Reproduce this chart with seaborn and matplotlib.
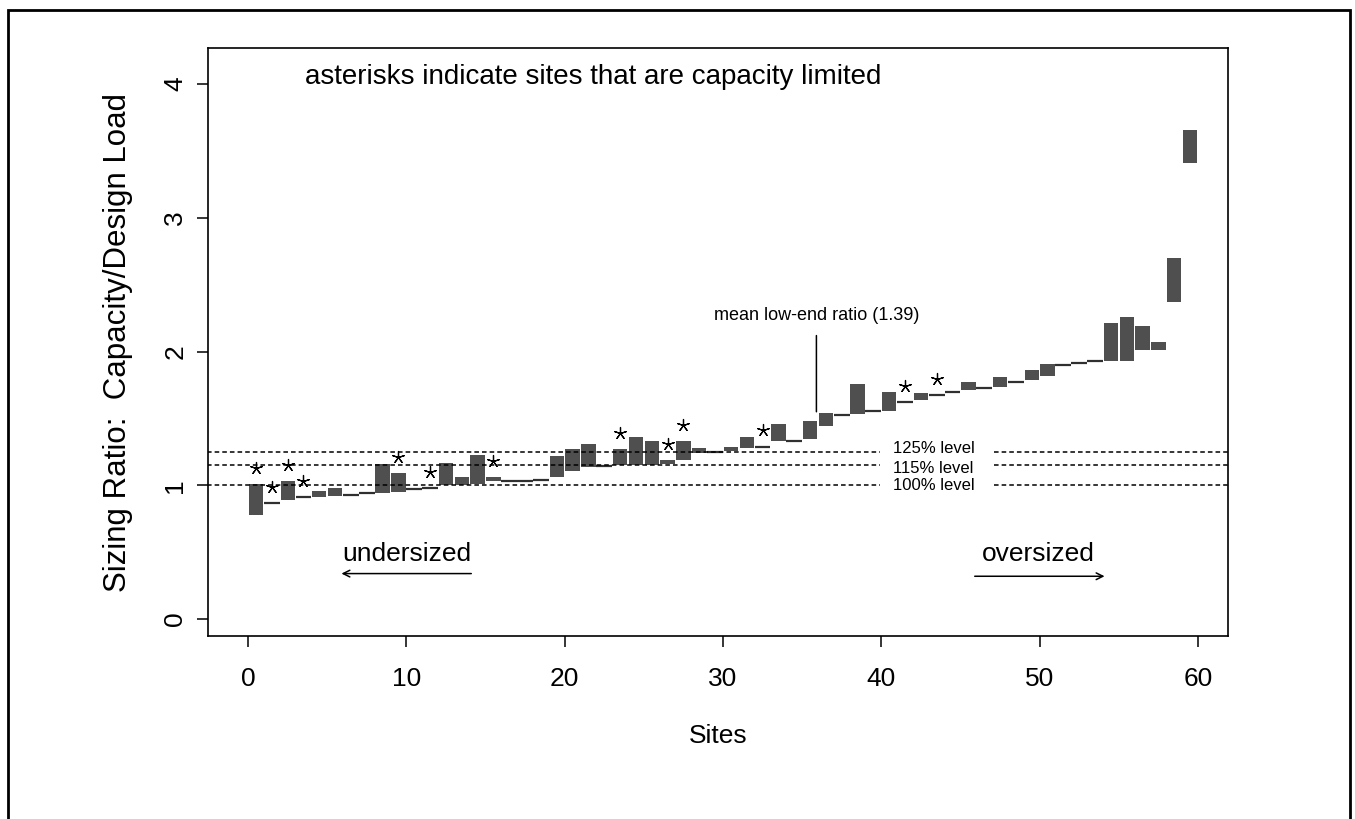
import numpy as np
import pandas as pd
import seaborn as sns
import matplotlib.pyplot as plt
from matplotlib.patches import Rectangle

# Dados: faixa de razão (capacidade / carga de projeto) por local, ordenada pelo limite inferior
low = [0.78, 0.87, 0.89, 0.91, 0.91, 0.92, 0.93, 0.945, 0.945, 0.95,
       0.97, 0.98, 1.00, 1.00, 1.01, 1.03, 1.03, 1.035, 1.04, 1.06,
       1.11, 1.14, 1.145, 1.15, 1.15, 1.15, 1.16, 1.19, 1.245, 1.25,
       1.255, 1.28, 1.29, 1.33, 1.335, 1.35, 1.44, 1.525, 1.535, 1.555,
       1.555, 1.62, 1.64, 1.675, 1.70, 1.71, 1.73, 1.735, 1.775, 1.79,
       1.82, 1.90, 1.915, 1.93, 1.93, 1.93, 2.01, 2.01, 2.37, 3.41]
high = [1.01, 0.87, 1.03, 0.91, 0.96, 0.98, 0.93, 0.945, 1.16, 1.09,
        0.97, 0.98, 1.17, 1.06, 1.23, 1.06, 1.03, 1.035, 1.04, 1.22,
        1.27, 1.31, 1.145, 1.27, 1.36, 1.33, 1.19, 1.33, 1.28, 1.25,
        1.29, 1.36, 1.29, 1.46, 1.335, 1.48, 1.54, 1.525, 1.76, 1.555,
        1.70, 1.62, 1.69, 1.675, 1.70, 1.77, 1.73, 1.81, 1.775, 1.86,
        1.91, 1.90, 1.915, 1.93, 2.21, 2.26, 2.19, 2.07, 2.70, 3.66]
limited = [0, 1, 2, 3, 9, 11, 15, 23, 26, 27, 32, 41, 43]  # locais limitados pela capacidade
levels = [1.00, 1.15, 1.25]
level_labels = ['100% level', '115% level', '125% level']
label_nudge = [0.0, -0.022, 0.025]  # afasta um pouco os rótulos que ficam muito juntos
mean_low_label = 'mean low-end ratio (1.39)'

df = pd.DataFrame({'low': low, 'high': high})
df['pos'] = np.arange(len(df)) + 0.5
df['span'] = df['high'] - df['low']
df['limited'] = df.index.isin(limited)

sns.set_theme(style='ticks', rc={'text.color': 'black', 'axes.labelcolor': 'black',
                                 'xtick.color': 'black', 'ytick.color': 'black'})
plt.rcParams['font.family'] = ['Liberation Sans', 'DejaVu Sans']

fig = plt.figure(figsize=(13.55, 8.19), dpi=100)
ax = fig.add_axes([0.1535, 0.2234, 0.7528, 0.718])

# barras flutuantes (low -> high)
sns.barplot(data=df, x='pos', y='span', native_scale=True, errorbar=None,
            width=0.9, color='#4f4f4f', saturation=1, linewidth=0,
            bottom=df['low'], ax=ax)

# locais sem faixa: só um traço no valor
flat = df[df['span'] < 0.01]
ax.hlines(flat['low'], flat['pos'] - 0.5, flat['pos'] + 0.5, color='#303030', lw=1.6)

# asteriscos
lim = df[df['limited']].copy()
lim['star'] = lim['high'] + 0.12
sns.scatterplot(data=lim, x='pos', y='star', marker=(5, 2, 0), s=75,
                color='black', edgecolor='black', linewidth=0.9, ax=ax, legend=False)

# linhas de referência
for lv, lab, dy in zip(levels, level_labels, label_nudge):
    ax.hlines(lv, -2.6, 39.9, colors='black', linestyles=(0, (3, 2)), lw=1.1)
    ax.hlines(lv, 47.1, 62, colors='black', linestyles=(0, (3, 2)), lw=1.1)
    ax.text(43.3, lv + dy, lab, ha='center', va='center', fontsize=12)

ax.annotate(mean_low_label, xy=(35.9, 1.55), xytext=(35.9, 2.27),
            ha='center', va='center', fontsize=13,
            arrowprops=dict(arrowstyle='-', color='black', lw=1.1, shrinkA=6, shrinkB=0))

ax.text(3.6, 4.05, 'asterisks indicate sites that are capacity limited',
        ha='left', va='center', fontsize=20)

ax.text(10.0, 0.49, 'undersized', ha='center', va='center', fontsize=19)
ax.annotate('', xy=(5.9, 0.34), xytext=(14.1, 0.34),
            arrowprops=dict(arrowstyle='->', color='black', lw=1.1, shrinkA=0, shrinkB=0))
ax.text(49.9, 0.49, 'oversized', ha='center', va='center', fontsize=19)
ax.annotate('', xy=(54.1, 0.32), xytext=(45.9, 0.32),
            arrowprops=dict(arrowstyle='->', color='black', lw=1.1, shrinkA=0, shrinkB=0))

ax.set_xlim(-2.53, 61.9)
ax.set_ylim(-0.127, 4.27)
ax.set_xticks(range(0, 61, 10))
ax.set_yticks(range(0, 5))
ax.tick_params(axis='both', length=8, width=1.1, labelsize=19, color='black')
ax.tick_params(axis='x', pad=14)
ax.tick_params(axis='y', pad=7)
plt.setp(ax.get_yticklabels(), rotation=90, va='center')
for s in ax.spines.values():
    s.set_visible(True)
    s.set_linewidth(1.2)
    s.set_color('black')
ax.set_xlabel('Sites', fontsize=19, labelpad=24)
ax.set_ylabel('Sizing Ratio:  Capacity/Design Load', fontsize=22.5, labelpad=22)

# moldura externa
fig.patches.append(Rectangle((0.006, -0.1), 0.99, 1.088, transform=fig.transFigure,
                             fill=False, lw=2, color='black'))

plt.savefig('out.png', dpi=100)
